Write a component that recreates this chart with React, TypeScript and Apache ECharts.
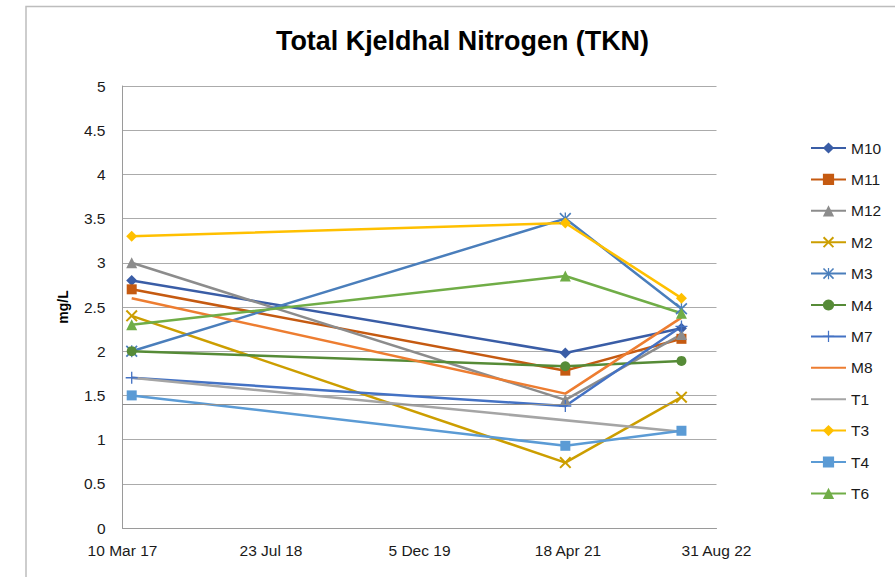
import React, { useEffect, useRef } from "react";
import * as echarts from "echarts";

// ---- data ----
const AXIS_START = "2017-03-10";
const AXIS_END = "2022-08-31";
const TICK_STEP_DAYS = 500;
const sampleDates = ["2017-04-10", "2021-04-09", "2022-05-05"];

const seriesNames = ["M10", "M11", "M12", "M2", "M3", "M4", "M7", "M8", "T1", "T3", "T4", "T6"];
const M10 = [2.8, 1.98, 2.26];
const M11 = [2.7, 1.78, 2.14];
const M12 = [3.0, 1.45, 2.19];
const M2 = [2.4, 0.74, 1.48];
const M3 = [2.0, 3.5, 2.48];
const M4 = [2.0, 1.83, 1.89];
const M7 = [1.7, 1.38, 2.28];
const M8 = [2.6, 1.52, 2.38];
const T1 = [1.7, null, 1.09];
const T3 = [3.3, 3.45, 2.6];
const T4 = [1.5, 0.93, 1.1];
const T6 = [2.3, 2.85, 2.43];
const seriesValues = [M10, M11, M12, M2, M3, M4, M7, M8, T1, T3, T4, T6];
const referenceLevel = [1.4];

const Y_MIN = 0;
const Y_MAX = 5;
const Y_STEP = 0.5;

// ---- styling ----
const X_SYMBOL = "path://M0,1.2L1.2,0L5,3.8L8.8,0L10,1.2L6.2,5L10,8.8L8.8,10L5,6.2L1.2,10L0,8.8L3.8,5Z";
const STAR_SYMBOL =
  "path://M4.45,0H5.55V10H4.45Z M0,1L1,0L5,4L9,0L10,1L6,5L10,9L9,10L5,6L1,10L0,9L4,5Z";
const PLUS_SYMBOL = "path://M4.45,0H5.55V4.45H10V5.55H5.55V10H4.45V5.55H0V4.45H4.45Z";

const seriesStyle: Record<string, { color: string; symbol: string; size: number }> = {
  M10: { color: "#3A5DA6", symbol: "diamond", size: 11 },
  M11: { color: "#C55A11", symbol: "rect", size: 10 },
  M12: { color: "#8C8C8C", symbol: "triangle", size: 11 },
  M2: { color: "#CC9E00", symbol: X_SYMBOL, size: 12 },
  M3: { color: "#4A7EBB", symbol: STAR_SYMBOL, size: 12 },
  M4: { color: "#568B37", symbol: "circle", size: 10 },
  M7: { color: "#4472C4", symbol: PLUS_SYMBOL, size: 12 },
  M8: { color: "#ED7D31", symbol: "none", size: 0 },
  T1: { color: "#A5A5A5", symbol: "none", size: 0 },
  T3: { color: "#FFC000", symbol: "diamond", size: 11 },
  T4: { color: "#5B9BD5", symbol: "rect", size: 10 },
  T6: { color: "#70AD47", symbol: "triangle", size: 11 },
};

const FONT = "'Liberation Sans', Arial, sans-serif";
const DAY = 86400000;
const MONTHS = ["Jan", "Feb", "Mar", "Apr", "May", "Jun", "Jul", "Aug", "Sep", "Oct", "Nov", "Dec"];

function toUtc(iso: string) {
  const [y, m, d] = iso.split("-").map(Number);
  return Date.UTC(y, m - 1, d);
}
const startMs = toUtc(AXIS_START);
function dayOffset(iso: string) {
  return Math.round((toUtc(iso) - startMs) / DAY);
}
function formatDay(v: number) {
  const d = new Date(startMs + v * DAY);
  return `${d.getUTCDate()} ${MONTHS[d.getUTCMonth()]} ${String(d.getUTCFullYear()).slice(2)}`;
}

export default function App() {
  const ref = useRef<HTMLDivElement>(null);
  useEffect(() => {
    if (!ref.current) return;
    const chart = echarts.init(ref.current, null, { renderer: "svg" });

    const series: any[] = seriesNames.map((name, si) => {
      const st = seriesStyle[name];
      const vals = seriesValues[si];
      const s: any = {
        name,
        type: "line",
        data: sampleDates.map((d, i) => [dayOffset(d), vals[i] == null ? "-" : vals[i]]),
        symbol: st.symbol,
        symbolSize: st.size,
        showSymbol: st.symbol !== "none",
        connectNulls: true,
        lineStyle: { width: 2.5, color: st.color },
        itemStyle: { color: st.color },
        emphasis: { disabled: true },
      };
      if (si === 0) {
        s.markLine = {
          silent: true,
          symbol: "none",
          label: { show: false },
          lineStyle: { color: "#8f8f8f", width: 1, type: "solid" },
          data: referenceLevel.map((v) => ({ yAxis: v })),
        };
      }
      return s;
    });

    const legendData = seriesNames.map((name) =>
      seriesStyle[name].symbol === "none" ? { name, itemStyle: { opacity: 0 } } : { name }
    );

    chart.setOption({
      animation: false,
      backgroundColor: "#ffffff",
      textStyle: { fontFamily: FONT },
      title: {
        text: "Total Kjeldhal Nitrogen (TKN)",
        left: 271,
        top: 22,
        textStyle: { fontFamily: FONT, fontSize: 26.9, fontWeight: "bold", color: "#000000" },
      },
      legend: {
        orient: "vertical",
        left: 805,
        top: 135,
        itemWidth: 35,
        itemHeight: 14,
        itemGap: 15.4,
        data: legendData,
        textStyle: { fontFamily: FONT, fontSize: 15.5, color: "#1a1a1a" },
      },
      grid: { left: 122.5, right: 178.5, top: 86, bottom: 49 },
      xAxis: {
        type: "value",
        min: 0,
        max: dayOffset(AXIS_END),
        interval: TICK_STEP_DAYS,
        axisLine: { show: true, lineStyle: { color: "#9a9a9a", width: 1 } },
        axisTick: { show: false },
        splitLine: { show: false },
        axisLabel: {
          formatter: (v: number) => formatDay(v),
          fontFamily: FONT,
          fontSize: 15.5,
          color: "#1a1a1a",
          margin: 14,
        },
      },
      yAxis: {
        type: "value",
        min: Y_MIN,
        max: Y_MAX,
        interval: Y_STEP,
        name: "mg/L",
        nameLocation: "middle",
        nameRotate: 90,
        nameGap: 53,
        nameTextStyle: { fontFamily: FONT, fontSize: 14, fontWeight: "bold", color: "#000000" },
        axisLine: { show: true, lineStyle: { color: "#9a9a9a", width: 1 } },
        axisTick: { show: false },
        splitLine: { show: true, lineStyle: { color: "#ababab", width: 1 } },
        axisLabel: { fontFamily: FONT, fontSize: 15.5, color: "#1a1a1a", margin: 17 },
      },
      graphic: [
        {
          type: "rect",
          silent: true,
          shape: { x: 26, y: 6.5, width: 900, height: 620 },
          style: { fill: "none", stroke: "#bdbdbd", lineWidth: 1.5 },
          z: -10,
        },
      ],
      series,
    });
    return () => chart.dispose();
  }, []);

  return (
    <div
      ref={ref}
      style={{ position: "fixed", left: 0, top: 0, width: 895, height: 577, background: "#fff" }}
    />
  );
}
